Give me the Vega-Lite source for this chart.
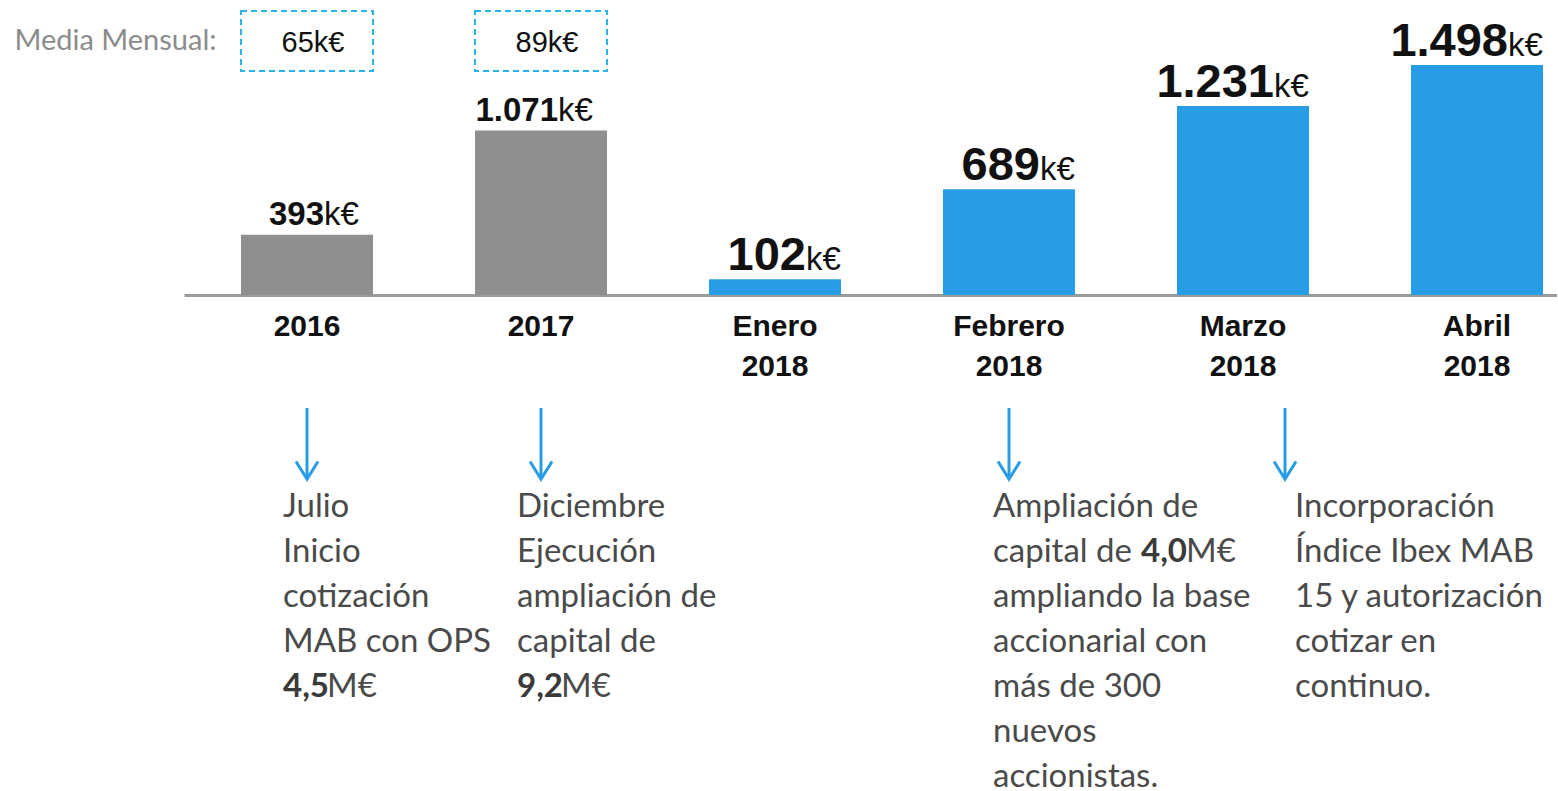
{
  "$schema": "https://vega.github.io/schema/vega-lite/v6.json",
  "background": "white",
  "padding": {"left": 13, "top": 0, "right": 0, "bottom": 0},
  "bounds": "flush",
  "spacing": 0,
  "config": {
    "view": {"stroke": null},
    "locale": {"number": {"decimal": ",", "thousands": ".", "grouping": [3], "currency": ["", "k€"]}}
  },
  "datasets": {
    "barras": [
      {"categoria": "2016", "periodo": "Anual", "valor": 393},
      {"categoria": "2017", "periodo": "Anual", "valor": 1071},
      {"categoria": "Enero 2018", "periodo": "Mensual", "valor": 102},
      {"categoria": "Febrero 2018", "periodo": "Mensual", "valor": 689},
      {"categoria": "Marzo 2018", "periodo": "Mensual", "valor": 1231},
      {"categoria": "Abril 2018", "periodo": "Mensual", "valor": 1498}
    ],
    "media": [
      {"categoria": "2016", "fila": "Media Mensual:", "media": 65},
      {"categoria": "2017", "fila": "Media Mensual:", "media": 89}
    ],
    "notas": [
      {"categoria": "2016", "linea": 1, "parte": "a", "texto": "Julio"},
      {"categoria": "2016", "linea": 2, "parte": "a", "texto": "Inicio"},
      {"categoria": "2016", "linea": 3, "parte": "a", "texto": "cotización"},
      {"categoria": "2016", "linea": 4, "parte": "a", "texto": "MAB con OPS"},
      {"categoria": "2016", "linea": 5, "parte": "b", "texto": "4,5"},
      {"categoria": "2016", "linea": 5, "parte": "c", "texto": "M€"},
      {"categoria": "2017", "linea": 1, "parte": "a", "texto": "Diciembre"},
      {"categoria": "2017", "linea": 2, "parte": "a", "texto": "Ejecución"},
      {"categoria": "2017", "linea": 3, "parte": "a", "texto": "ampliación de"},
      {"categoria": "2017", "linea": 4, "parte": "a", "texto": "capital de"},
      {"categoria": "2017", "linea": 5, "parte": "b", "texto": "9,2"},
      {"categoria": "2017", "linea": 5, "parte": "c", "texto": "M€"},
      {"categoria": "Febrero 2018", "linea": 1, "parte": "a", "texto": "Ampliación de"},
      {"categoria": "Febrero 2018", "linea": 2, "parte": "a", "texto": "capital de"},
      {"categoria": "Febrero 2018", "linea": 2, "parte": "b", "texto": "4,0"},
      {"categoria": "Febrero 2018", "linea": 2, "parte": "c", "texto": "M€"},
      {"categoria": "Febrero 2018", "linea": 3, "parte": "a", "texto": "ampliando la base"},
      {"categoria": "Febrero 2018", "linea": 4, "parte": "a", "texto": "accionarial con"},
      {"categoria": "Febrero 2018", "linea": 5, "parte": "a", "texto": "más de 300"},
      {"categoria": "Febrero 2018", "linea": 6, "parte": "a", "texto": "nuevos"},
      {"categoria": "Febrero 2018", "linea": 7, "parte": "a", "texto": "accionistas."},
      {"categoria": "Marzo 2018", "linea": 1, "parte": "a", "texto": "Incorporación"},
      {"categoria": "Marzo 2018", "linea": 2, "parte": "a", "texto": "Índice Ibex MAB"},
      {"categoria": "Marzo 2018", "linea": 3, "parte": "a", "texto": "15 y autorización"},
      {"categoria": "Marzo 2018", "linea": 4, "parte": "a", "texto": "cotizar en"},
      {"categoria": "Marzo 2018", "linea": 5, "parte": "a", "texto": "continuo."}
    ]
  },
  "vconcat": [
    {
      "width": 1373,
      "height": 295,
      "encoding": {
        "x": {
          "field": "categoria", "type": "nominal", "sort": null,
          "scale": {"domain": ["2016", "2017", "Enero 2018", "Febrero 2018", "Marzo 2018", "Abril 2018"], "paddingInner": 0.4359, "paddingOuter": 0.1517, "align": 0.803},
          "axis": {
            "title": null, "orient": "bottom", "ticks": false, "grid": false,
            "domain": true, "domainColor": "#9b9b9b", "domainWidth": 3,
            "labelFont": "Liberation Sans", "labelFontWeight": "bold", "labelFontSize": 30, "labelColor": "#111111",
            "labelPadding": 16, "labelBaseline": "top", "labelLineHeight": 40, "labelAngle": 0,
            "labelExpr": "split(datum.label, ' ')", "labelLimit": 0, "labelOverlap": false
          }
        }
      },
      "layer": [
        {
          "data": {"name": "barras"},
          "encoding": {
            "y": {"field": "valor", "type": "quantitative", "scale": {"domain": [0, 1921], "nice": false, "zero": true}, "axis": null}
          },
          "layer": [
            {
              "mark": {"type": "bar"},
              "encoding": {
                "color": {"field": "periodo", "type": "nominal", "scale": {"domain": ["Anual", "Mensual"], "range": ["#8f8f8f", "#289de5"]}, "legend": null}
              }
            },
            {
              "transform": [{"filter": "datum.periodo == 'Anual'"}],
              "mark": {"type": "text", "align": "right", "baseline": "alphabetic", "dx": 17, "dy": -10, "font": "Liberation Sans", "fontWeight": "bold", "fontSize": 33, "color": "#111111"},
              "encoding": {
                "text": {"field": "valor", "type": "quantitative", "format": ",d"}
              }
            },
            {
              "transform": [{"filter": "datum.periodo == 'Anual'"}],
              "mark": {"type": "text", "align": "left", "baseline": "alphabetic", "dx": 17, "dy": -10, "font": "Liberation Sans", "fontSize": 33, "color": "#111111"},
              "encoding": {
                "text": {"value": "k€"}
              }
            },
            {
              "transform": [{"filter": "datum.periodo == 'Mensual'"}],
              "mark": {"type": "text", "align": "right", "baseline": "alphabetic", "dx": 31, "dy": -9, "font": "Liberation Sans", "fontWeight": "bold", "fontSize": 47, "color": "#111111"},
              "encoding": {
                "text": {"field": "valor", "type": "quantitative", "format": ",d"}
              }
            },
            {
              "transform": [{"filter": "datum.periodo == 'Mensual'"}],
              "mark": {"type": "text", "align": "left", "baseline": "alphabetic", "dx": 31, "dy": -9, "font": "Liberation Sans", "fontSize": 33, "color": "#111111"},
              "encoding": {
                "text": {"value": "k€"}
              }
            }
          ]
        },
        {
          "data": {"name": "media"},
          "encoding": {
            "y": {
              "field": "fila", "type": "nominal",
              "scale": {"paddingInner": 0.4894, "paddingOuter": 1, "align": 0.0468},
              "axis": {"title": null, "orient": "left", "ticks": false, "domain": false, "grid": false, "labelFont": "Lato", "labelFontSize": 29, "labelColor": "#8c8c8c", "labelPadding": -32, "labelLimit": 0}
            }
          },
          "layer": [
            {
              "mark": {"type": "rect", "fill": "transparent", "stroke": "#2ab4e8", "strokeWidth": 2, "strokeDash": [6, 4]}
            },
            {
              "mark": {"type": "text", "baseline": "middle", "dx": 6, "dy": 2, "font": "Liberation Sans", "fontSize": 29, "color": "#111111"},
              "encoding": {
                "text": {"field": "media", "type": "quantitative", "format": "$d"}
              }
            }
          ]
        }
      ],
      "resolve": {"scale": {"y": "independent"}}
    },
    {
      "width": 1373,
      "height": 496,
      "data": {"name": "notas"},
      "encoding": {
        "x": {
          "field": "categoria", "type": "nominal", "sort": null,
          "scale": {"domain": ["2016", "2017", "Enero 2018", "Febrero 2018", "Marzo 2018", "Abril 2018"], "paddingInner": 0.4359, "paddingOuter": 0.1517, "align": 0.803},
          "axis": null
        },
        "y": {"field": "linea", "type": "quantitative", "scale": {"domain": [-3.711, 7.311], "reverse": true, "nice": false, "zero": false}, "axis": null}
      },
      "layer": [
        {
          "transform": [{"filter": "datum.linea == 1 && datum.categoria != 'Marzo 2018'"}],
          "mark": {"type": "rule", "stroke": "#289de5", "strokeWidth": 3},
          "encoding": {"y": {"datum": -1.2}, "y2": {"datum": 0.36}}
        },
        {
          "transform": [{"filter": "datum.linea == 1 && datum.categoria == 'Marzo 2018'"}],
          "mark": {"type": "rule", "stroke": "#289de5", "strokeWidth": 3, "xOffset": 42},
          "encoding": {"y": {"datum": -1.2}, "y2": {"datum": 0.36}}
        },
        {
          "transform": [{"filter": "datum.linea == 1 && datum.categoria != 'Marzo 2018'"}],
          "mark": {"type": "point", "shape": "M-1,-1.6L0,0L1,-1.6", "filled": false, "size": 484, "stroke": "#289de5", "strokeWidth": 3, "opacity": 1},
          "encoding": {"y": {"datum": 0.38}}
        },
        {
          "transform": [{"filter": "datum.linea == 1 && datum.categoria == 'Marzo 2018'"}],
          "mark": {"type": "point", "shape": "M-1,-1.6L0,0L1,-1.6", "filled": false, "size": 484, "stroke": "#289de5", "strokeWidth": 3, "opacity": 1, "xOffset": 42},
          "encoding": {"y": {"datum": 0.38}}
        },
        {
          "transform": [{"filter": "datum.parte == 'a' && (datum.categoria == '2016' || datum.categoria == '2017')"}],
          "mark": {"type": "text", "align": "left", "baseline": "middle", "dx": -24, "font": "Lato", "fontSize": 33, "color": "#4a4a4a"},
          "encoding": {"text": {"field": "texto"}}
        },
        {
          "transform": [{"filter": "datum.parte == 'a' && datum.categoria == 'Febrero 2018'"}],
          "mark": {"type": "text", "align": "left", "baseline": "middle", "dx": -16, "font": "Lato", "fontSize": 33, "color": "#4a4a4a"},
          "encoding": {"text": {"field": "texto"}}
        },
        {
          "transform": [{"filter": "datum.parte == 'a' && datum.categoria == 'Marzo 2018'"}],
          "mark": {"type": "text", "align": "left", "baseline": "middle", "dx": 52, "font": "Lato", "fontSize": 33, "color": "#4a4a4a"},
          "encoding": {"text": {"field": "texto"}}
        },
        {
          "transform": [{"filter": "datum.parte == 'b' && datum.categoria != 'Febrero 2018'"}],
          "mark": {"type": "text", "align": "left", "baseline": "middle", "dx": -24, "font": "Lato", "fontSize": 33, "fontWeight": "bold", "color": "#3a3a3a"},
          "encoding": {"text": {"field": "texto"}}
        },
        {
          "transform": [{"filter": "datum.parte == 'c' && datum.categoria != 'Febrero 2018'"}],
          "mark": {"type": "text", "align": "left", "baseline": "middle", "dx": 20, "font": "Lato", "fontSize": 33, "color": "#4a4a4a"},
          "encoding": {"text": {"field": "texto"}}
        },
        {
          "transform": [{"filter": "datum.parte == 'b' && datum.categoria == 'Febrero 2018'"}],
          "mark": {"type": "text", "align": "left", "baseline": "middle", "dx": 132, "font": "Lato", "fontSize": 33, "fontWeight": "bold", "color": "#3a3a3a"},
          "encoding": {"text": {"field": "texto"}}
        },
        {
          "transform": [{"filter": "datum.parte == 'c' && datum.categoria == 'Febrero 2018'"}],
          "mark": {"type": "text", "align": "left", "baseline": "middle", "dx": 177, "font": "Lato", "fontSize": 33, "color": "#4a4a4a"},
          "encoding": {"text": {"field": "texto"}}
        }
      ]
    }
  ]
}
